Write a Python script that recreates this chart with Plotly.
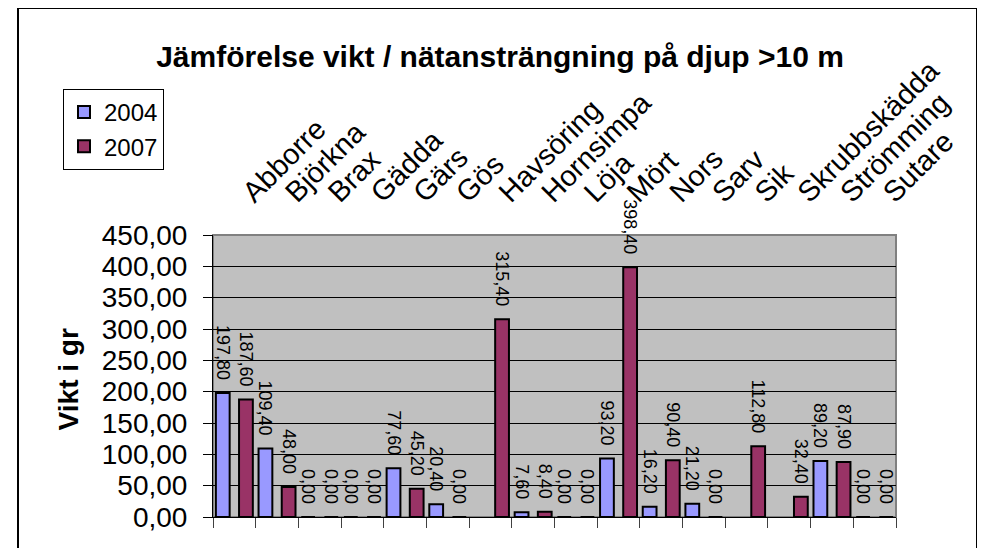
import plotly.graph_objects as go

categories = ["Abborre", "Björkna", "Brax", "Gädda", "Gärs", "Gös", "Havsöring", "Hornsimpa",
              "Löja", "Mört", "Nors", "Sarv", "Sik", "Skrubbskädda", "Strömming", "Sutare"]
v2004 = [197.80, 109.40, 0.00, 0.00, 77.60, 20.40, None, 7.60,
         0.00, 93.20, 16.20, 21.20, None, None, 89.20, 0.00]
v2007 = [187.60, 48.00, 0.00, 0.00, 45.20, 0.00, 315.40, 8.40,
         0.00, 398.40, 90.40, 0.00, 112.80, 32.40, 87.90, 0.00]
series_names = ["2004", "2007"]
y_tickvals = [0, 50, 100, 150, 200, 250, 300, 350, 400, 450]
y_title = "Vikt i gr"

FONT = "Arial, Liberation Sans, sans-serif"
# page body has an 8px margin: figure sized to fit the window
W, H = 977, 540
L, R, T, B = 205, 89, 227, 31


def fmt(v):
    if v is None:
        return ""
    return f"{v:.2f}".replace(".", ",") + "\u00a0\u00a0"


fig = go.Figure()
colors = ["#9999FF", "#993366"]
offsets = [-0.433, 0.110]
for name, vals, col, off in zip(series_names, [v2004, v2007], colors, offsets):
    fig.add_trace(go.Bar(
        x=categories, y=vals, name=name,
        marker=dict(color=col, line=dict(color="black", width=2)),
        width=0.323, offset=off,
        text=[fmt(v) for v in vals], textposition="outside", textangle=90,
        textfont=dict(family=FONT, size=18, color="black"),
        constraintext="none", cliponaxis=False,
    ))

# invisible helper trace so the top (label) axis is drawn
fig.add_trace(go.Scatter(x=categories, y=[None] * len(categories), xaxis="x2",
                         showlegend=False, hoverinfo="skip", mode="markers"))

def px_x(x):
    return (x - L) / (W - L - R)

def px_y(y):
    return (H - B - y) / (H - T - B)

shapes = [
    dict(type="rect", xref="x domain", yref="y domain", x0=0, x1=1, y0=0, y1=1,
         line=dict(color="#808080", width=2), layer="below"),
    dict(type="rect", xref="paper", yref="paper", x0=px_x(10), x1=px_x(969), y0=px_y(560), y1=px_y(0),
         line=dict(color="black", width=2)),
]

fig.update_layout(
    width=W, height=H,
    margin=dict(l=L, r=R, t=T, b=B, autoexpand=False),
    paper_bgcolor="white", plot_bgcolor="#C0C0C0",
    separators=", ",
    barmode="group",
    font=dict(family=FONT, color="black"),
    title=dict(text="<b>Jämförelse vikt / nätansträngning på djup >10 m</b>",
               font=dict(family=FONT, size=30, color="black"),
               xref="container", yref="container", x=492 / W, y=1 - 48 / H,
               xanchor="center", yanchor="middle"),
    legend=dict(xref="container", yref="container", x=55 / W, y=1 - 81 / H,
                xanchor="left", yanchor="top",
                bordercolor="black", borderwidth=1, bgcolor="white",
                font=dict(family=FONT, size=24, color="black"),
                itemwidth=30, traceorder="normal"),
    xaxis=dict(type="category", categoryorder="array", categoryarray=categories,
               range=[-0.5, len(categories) - 0.5], automargin=False,
               showticklabels=False, ticks="outside", tickson="boundaries", ticklen=10,
               tickcolor="#404040", showline=True, linecolor="black", linewidth=1,
               showgrid=False, zeroline=False, fixedrange=True),
    xaxis2=dict(type="category", categoryorder="array", categoryarray=categories,
                overlaying="x", side="top", matches="x", anchor="y", automargin=False,
                showticklabels=True, tickangle=-45, ticks="", showline=False,
                showgrid=False, zeroline=False, ticklabelstandoff=20, ticklabelshift=10,
                tickfont=dict(family=FONT, size=29, color="black")),
    yaxis=dict(range=[0, 450], tickvals=y_tickvals, tickformat=".2f", automargin=False,
               ticks="outside", ticklen=9, tickcolor="black",
               showline=True, linecolor="black", linewidth=1,
               showgrid=True, gridcolor="black", gridwidth=1, zeroline=False,
               tickfont=dict(family=FONT, size=28, color="black"),
               ticklabelstandoff=10),
    annotations=[dict(text=f"<b>{y_title}</b>", xref="paper", yref="paper",
                      x=px_x(60), y=0.488, textangle=-90, showarrow=False,
                      xanchor="center", yanchor="middle",
                      font=dict(family=FONT, size=28, color="black"))],
    shapes=shapes,
)

fig.write_html("out.html")
